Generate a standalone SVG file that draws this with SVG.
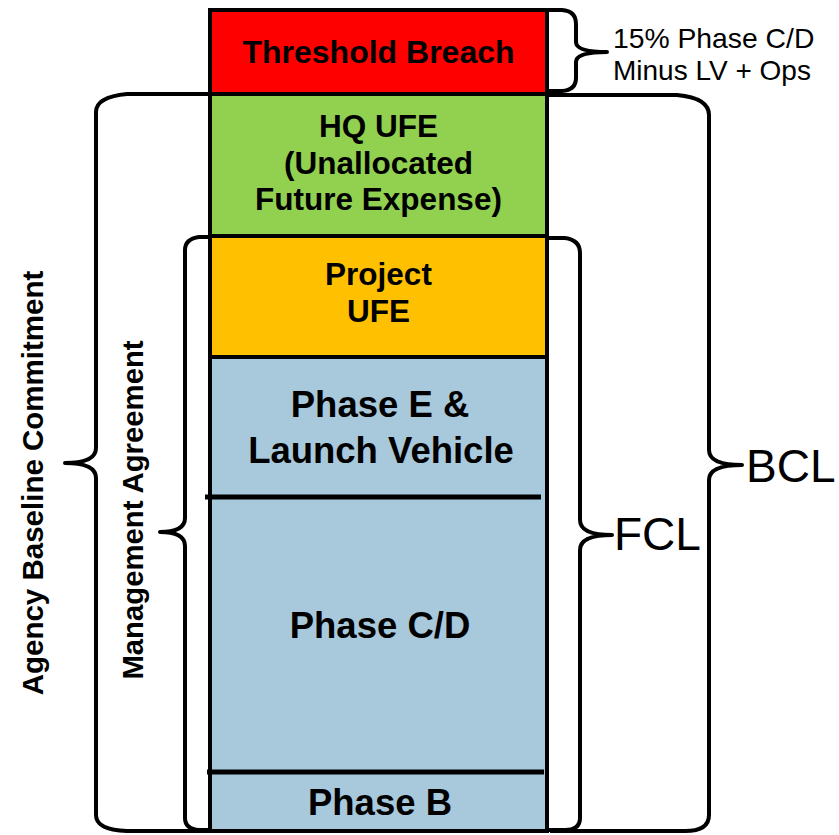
<svg xmlns="http://www.w3.org/2000/svg" width="839" height="835" viewBox="0 0 839 835">
<style>
.blk{stroke:#000;stroke-width:4}
.t{font-family:"Liberation Sans",Arial,sans-serif;font-weight:bold;fill:#000;text-anchor:middle}
.n{font-family:"Liberation Sans",Arial,sans-serif;fill:#000}
.br{fill:none;stroke:#000;stroke-width:4;stroke-linejoin:round}
.sep{stroke:#000;stroke-width:5}
</style>
<rect width="839" height="835" fill="#fff"/>
<g id="threshold-breach">
<rect class="blk" x="210" y="10" width="337" height="84" fill="#FF0000"/>
<text class="t" x="378.5" y="63" font-size="32">Threshold Breach</text>
</g>
<g id="hq-ufe">
<rect class="blk" x="210" y="94" width="337" height="142" fill="#92D050"/>
<text class="t" x="378.5" y="137" font-size="31.5">HQ UFE</text>
<text class="t" x="378.5" y="174" font-size="31.5">(Unallocated</text>
<text class="t" x="378.5" y="210" font-size="31.5">Future Expense)</text>
</g>
<g id="project-ufe">
<rect class="blk" x="210" y="236" width="337" height="121" fill="#FFC000"/>
<text class="t" x="378.5" y="285" font-size="31.5">Project</text>
<text class="t" x="378.5" y="322" font-size="31.5">UFE</text>
</g>
<g id="phase-e">
<rect class="blk" x="210" y="357" width="337" height="474" fill="#A8C8DB"/>
<text class="t" x="380" y="417" font-size="36.5">Phase E &amp;</text>
<text class="t" x="381" y="463" font-size="36.5">Launch Vehicle</text>
</g>
<g id="phase-cd">
<line class="sep" x1="205" y1="497" x2="541" y2="497"/>
<text class="t" x="380" y="638" font-size="36.5">Phase C/D</text>
</g>
<g id="phase-b">
<line class="sep" x1="207" y1="772" x2="544" y2="772"/>
<text class="t" x="380" y="815" font-size="36.5">Phase B</text>
</g>
<g id="connectors">
<path class="br" d="M547 10 L562 10 Q576 11 576 24 L576 42 Q576 52 607 52 Q576 52 576 62 L576 78 Q576 90 562 91 L547 91"/>
<path class="br" d="M547 95 L677 95 Q709 98 709 115 L709 450 Q709 465 742 465 Q709 465 709 480 L709 815 Q709 831 685 831 L550 831"/>
<path class="br" d="M547 238 L565 238 Q580 240 580 253 L580 520 Q580 535 612 535 Q580 535 580 550 L580 818 Q580 830 565 830 L547 830"/>
<path class="br" d="M210 94 L127 94 Q96 97 96 112 L96 448 Q96 463 65 463 Q96 463 96 478 L96 815 Q96 830 127 831 L210 831"/>
<path class="br" d="M210 237 L199 237 Q185 239 185 250 L185 518 Q185 532 160 532 Q185 532 185 546 L185 818 Q185 829 199 830 L210 830"/>
</g>
<g id="labels">
<text class="n" x="613" y="48" font-size="28.3">15% Phase C/D</text>
<text class="n" x="613" y="80" font-size="28">Minus LV + Ops</text>
<text class="n" x="746" y="482" font-size="46">BCL</text>
<text class="n" x="614" y="550" font-size="46">FCL</text>
<text class="t" transform="translate(43,483) rotate(-90)" font-size="29.5">Agency Baseline Commitment</text>
<text class="t" transform="translate(143,510) rotate(-90)" font-size="29.3">Management Agreement</text>
</g>
</svg>
